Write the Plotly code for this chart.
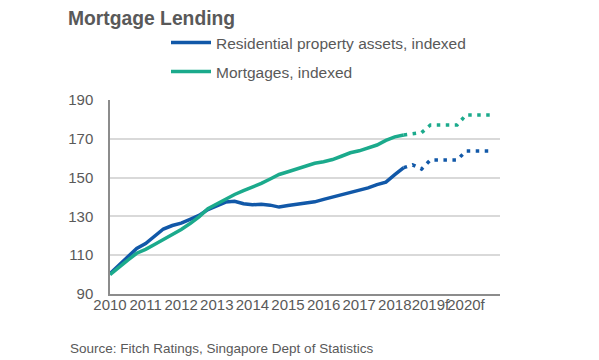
import plotly.graph_objects as go

# ---- data ----
quarters = [2010.00, 2010.25, 2010.50, 2010.75, 2011.00, 2011.25, 2011.50, 2011.75,
            2012.00, 2012.25, 2012.50, 2012.75, 2013.00, 2013.25, 2013.50, 2013.75,
            2014.00, 2014.25, 2014.50, 2014.75, 2015.00, 2015.25, 2015.50, 2015.75,
            2016.00, 2016.25, 2016.50, 2016.75, 2017.00, 2017.25, 2017.50, 2017.75,
            2018.00, 2018.25]
residential = [100.5, 105.0, 109.5, 113.5, 116.0, 119.5, 123.5, 125.3,
               126.5, 128.5, 130.5, 133.5, 135.3, 137.4, 137.8, 136.5,
               136.0, 136.2, 135.8, 134.8, 135.6, 136.2, 136.6, 137.5,
               138.8, 140.0, 141.1, 142.2, 143.5, 144.7, 146.4, 147.7,
               151.5, 155.1]
mortgages = [100.0, 104.0, 107.5, 111.0, 113.0, 115.5, 118.0, 121.0,
             123.3, 126.3, 129.8, 134.0, 136.5, 139.0, 141.3, 143.3,
             145.0, 147.0, 149.3, 151.6, 153.0, 154.5, 156.0, 157.4,
             158.2, 159.3, 161.0, 162.8, 163.8, 165.2, 166.8, 169.2,
             171.0, 172.0]

forecast_quarters = [2018.25, 2018.50, 2018.75, 2019.00, 2019.25, 2019.50,
                     2019.75, 2020.00, 2020.25, 2020.50, 2020.75]
residential_f = [155.1, 156.6, 154.4, 159.1, 159.1, 159.1, 159.1, 163.7, 163.7, 163.7, 163.7]
mortgages_f = [172.0, 172.4, 173.2, 177.1, 177.1, 177.1, 177.1, 182.3, 182.3, 182.3, 182.3]

tick_years = [2010, 2011, 2012, 2013, 2014, 2015, 2016, 2017, 2018, 2019, 2020]
tick_labels = ["2010", "2011", "2012", "2013", "2014", "2015", "2016", "2017",
               "2018", "2019f", "2020f"]
y_ticks = [90, 110, 130, 150, 170, 190]

series_names = ["Residential property assets, indexed", "Mortgages, indexed"]

BLUE = "#1158A8"
GREEN = "#1BAA8C"
GREY = "#595959"
FONT = "Liberation Sans, Arial, sans-serif"

fig = go.Figure()
fig.add_trace(go.Scatter(x=quarters, y=residential, mode="lines", name=series_names[0],
                         line=dict(color=BLUE, width=3.5), legend="legend"))
fig.add_trace(go.Scatter(x=quarters, y=mortgages, mode="lines", name=series_names[1],
                         line=dict(color=GREEN, width=3.5), legend="legend2"))
fig.add_trace(go.Scatter(x=forecast_quarters, y=residential_f, mode="lines", showlegend=False,
                         line=dict(color=BLUE, width=3.5, dash="3.5px,5.5px")))
fig.add_trace(go.Scatter(x=forecast_quarters, y=mortgages_f, mode="lines", showlegend=False,
                         line=dict(color=GREEN, width=3.5, dash="3.5px,5.5px")))

legend_common = dict(
    orientation="v", xanchor="left", yanchor="middle",
    font=dict(family=FONT, size=15.5, color=GREY),
    bgcolor="rgba(0,0,0,0)", itemwidth=40,
)
# the page body adds an 8px offset; figure is sized/positioned to compensate
fig.update_layout(
    width=591, height=352,
    margin=dict(l=102, r=99, t=92, b=66),
    paper_bgcolor="white", plot_bgcolor="white",
    font=dict(family=FONT, color=GREY),
    title=dict(text="<b>Mortgage Lending</b>", x=60/591, xanchor="left",
               y=1-10/352, yanchor="middle", yref="container",
               font=dict(family=FONT, size=19.3, color=GREY)),
    legend=dict(x=(166-110)/390, y=(294-43)/194, **legend_common),
    legend2=dict(x=(166-110)/390, y=(294-72)/194, **legend_common),
    xaxis=dict(range=[2010, 2020.955], tickvals=tick_years, ticktext=tick_labels,
               tickangle=0, showgrid=False, showline=True, linecolor="#8C8C8C",
               linewidth=1.5, ticks="", zeroline=False, ticklabelstandoff=-4,
               tickfont=dict(family=FONT, size=15, color=GREY)),
    yaxis=dict(range=[90, 190], tickvals=y_ticks, showgrid=True, gridcolor="#D9D9D9",
               gridwidth=1.5, showline=True, linecolor="#8C8C8C", linewidth=1.5,
               ticks="", zeroline=False, ticklabelstandoff=12,
               tickfont=dict(family=FONT, size=15, color=GREY)),
    annotations=[dict(text="Source: Fitch Ratings, Singapore Dept of Statistics",
                      xref="paper", yref="paper", x=(68-110)/390, y=(294-348)/194,
                      xanchor="left", yanchor="middle", showarrow=False,
                      font=dict(family=FONT, size=13.5, color=GREY))],
)

fig.write_html("out.html")
